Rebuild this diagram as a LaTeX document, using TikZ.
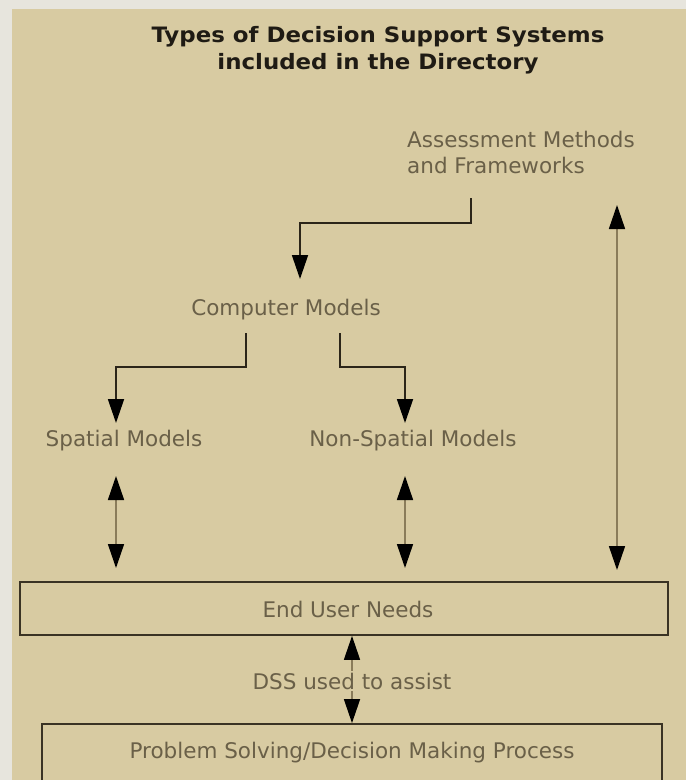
\documentclass[tikz,border=0pt]{standalone}
\usepackage{fontspec}
\setmainfont{DejaVu Sans}
\newfontfamily\titlefont{DejaVu Sans}[FakeStretch=1.08]
\usetikzlibrary{arrows.meta}
\definecolor{bg}{HTML}{D8CBA2}
\definecolor{framecol}{HTML}{E7E5DD}
\definecolor{txt}{HTML}{6A6048}
\definecolor{ttl}{HTML}{1F1B14}
\definecolor{ln}{HTML}{2B2519}
\definecolor{shaft}{HTML}{8A7C5A}
\definecolor{boxln}{HTML}{3A3324}
\begin{document}
\begin{tikzpicture}[x=1pt,y=-1pt,
  lbl/.style={font=\fontsize{21.5}{26}\selectfont, text=txt, inner sep=0pt},
  elbow/.style={draw=ln, line width=1.8pt, -{Triangle[length=24pt,width=16pt,color=black]}},
  dbl/.style={draw=shaft, line width=1.6pt, {Triangle[length=24pt,width=16pt,color=black]}-{Triangle[length=24pt,width=16pt,color=black]}},
  boxs/.style={draw=boxln, line width=1.8pt, fill=bg, inner sep=0pt}]
\fill[framecol] (0,0) rectangle (686,780);
\fill[bg] (12,9) rectangle (686,780);
\useasboundingbox (0,0) rectangle (686,780);

% title
\node[font=\titlefont\bfseries\fontsize{21.2}{27}\selectfont, text=ttl, align=center, inner sep=0pt] (title) at (378,50)
  {Types of Decision Support Systems\\included in the Directory};

% labels
\node[lbl, align=left, anchor=west] (assess) at (407,152) {Assessment Methods\\and Frameworks};
\node[lbl] (cm) at (286,310) {Computer Models};
\node[lbl] (sm) at (124,441) {Spatial Models};
\node[lbl] (nsm) at (413,441) {Non-Spatial Models};

% boxes
\node[boxs, minimum width=648pt, minimum height=53pt] (eun) at (344,608.5) {};
\node[lbl] (euntext) at (348,609) {End User Needs};
\begin{scope}
\clip (12,9) rectangle (686,780);
\node[boxs, minimum width=620pt, minimum height=76pt] (pbox) at (352,762) {};
\end{scope}
\node[lbl] (ptext) at (352,753) {Problem Solving/Decision Making Process};

% coordinates
\coordinate (a0) at (471,198);
\coordinate (a1) at (300,279);
\coordinate (c0) at (246,333);
\coordinate (c1) at (116,423);
\coordinate (d0) at (340,333);
\coordinate (d1) at (405,423);
\coordinate (s0) at (116,476);
\coordinate (s1) at (116,568);
\coordinate (n0) at (405,476);
\coordinate (n1) at (405,568);
\coordinate (r0) at (617,205);
\coordinate (r1) at (617,570);

% elbow connectors
\draw[elbow] (a0) |- (300,223) -- (a1);
\draw[elbow] (c0) |- (116,367) -- (c1);
\draw[elbow] (d0) |- (405,367) -- (d1);

% double arrows
\draw[dbl] (s0) -- (s1);
\draw[dbl] (n0) -- (n1);
\draw[dbl] (r0) -- (r1);
\draw[dbl] (eun.south -| 352,0) -- (pbox.north -| 352,0);
\node[lbl, fill=bg, inner sep=2pt] (dss) at (352,681) {DSS used to assist};
\end{tikzpicture}
\end{document}
